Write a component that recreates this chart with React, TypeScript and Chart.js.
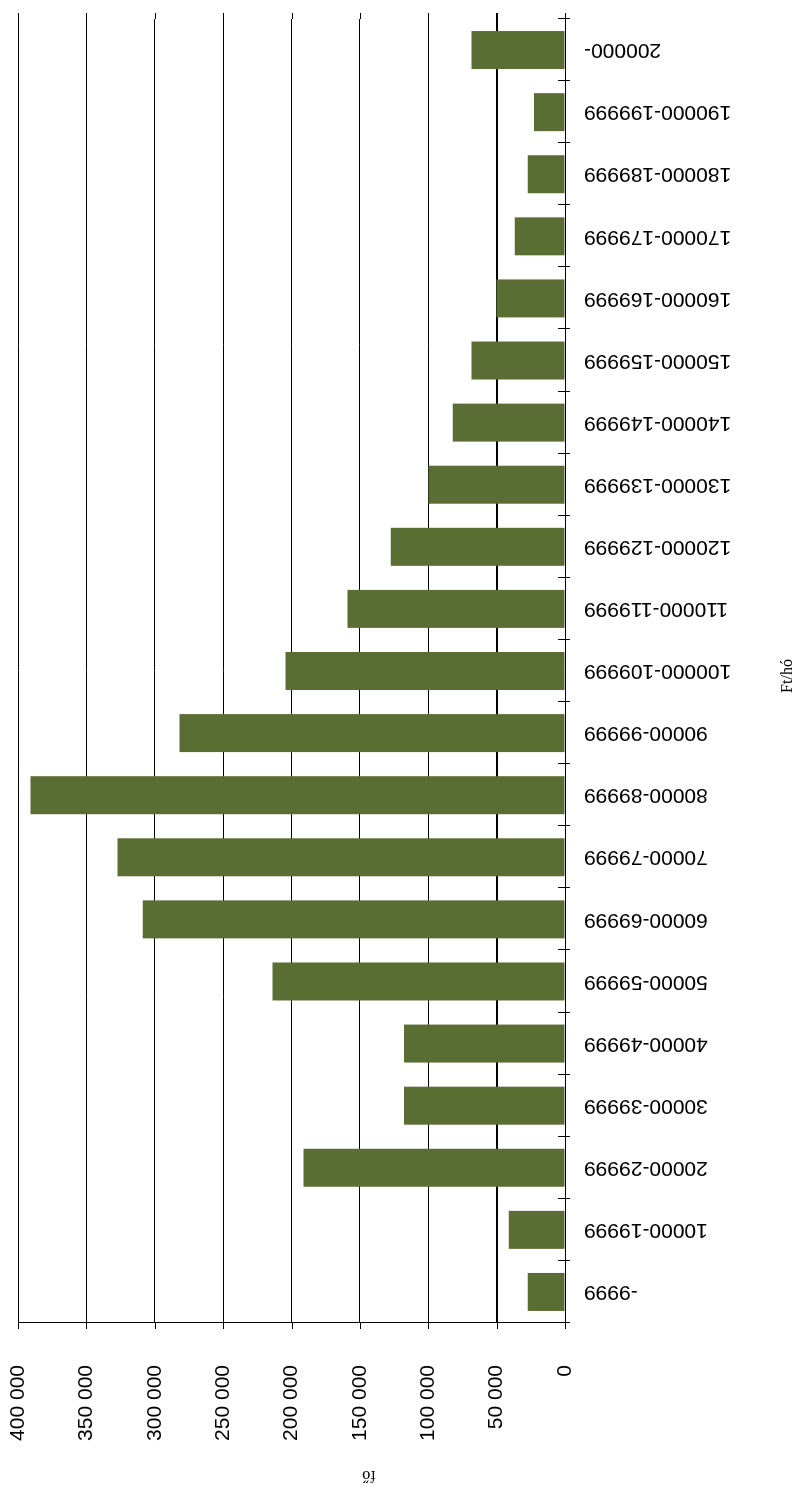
import React, { useEffect, useRef } from "react";
import { Chart, registerables } from "chart.js";

Chart.register(...registerables);

const categories: string[] = [
  "-9999",
  "10000-19999",
  "20000-29999",
  "30000-39999",
  "40000-49999",
  "50000-59999",
  "60000-69999",
  "70000-79999",
  "80000-89999",
  "90000-99999",
  "100000-109999",
  "110000-119999",
  "120000-129999",
  "130000-139999",
  "140000-149999",
  "150000-159999",
  "160000-169999",
  "170000-179999",
  "180000-189999",
  "190000-199999",
  "200000-",
];

const persons: number[] = [
  27200, 41100, 191200, 117800, 117800, 213900, 308700, 327200, 390800, 281900,
  204300, 159000, 127400, 99900, 82000, 68300, 50100, 36700, 27200, 22700, 68300,
];

const valueMin = 0;
const valueMax = 400000;
const valueStep = 50000;
const valueTitle = "fő";
const categoryTitle = "Ft/hó";

const W = 1494;
const H = 807;
const SANS = "'Liberation Sans', Arial, sans-serif";
const SERIF = "'Liberation Serif', 'Times New Roman', serif";

const fmt = (v: number) => String(v).replace(/\B(?=(\d{3})+(?!\d))/g, " ");

const line = (ctx: CanvasRenderingContext2D, x1: number, y1: number, x2: number, y2: number) => {
  ctx.beginPath();
  ctx.moveTo(x1, y1);
  ctx.lineTo(x2, y2);
  ctx.stroke();
};

const decorPlugin = {
  id: "decor",
  afterDraw(chart: any) {
    const { ctx, chartArea, scales } = chart;
    const { left, right, bottom } = chartArea;
    const x = scales.x;
    const y = scales.y;
    ctx.save();
    ctx.strokeStyle = "#000";
    ctx.lineWidth = 1;
    // category tick marks crossing the axis
    for (let i = 0; i <= categories.length; i++) {
      const px = Math.round(x.getPixelForValue(i - 0.5)) + 0.5;
      line(ctx, px, bottom - 7, px, bottom + 5);
    }
    // value-axis ticks outward, and gridlines extend beyond the plot edge
    y.ticks.forEach((t: any) => {
      const lw = t.value === valueStep ? 2 : 1;
      ctx.lineWidth = lw;
      let py = y.getPixelForValue(t.value);
      py = lw === 1 ? Math.round(py) + 0.5 : Math.round(py);
      line(ctx, right, py, right + 6, py);
      ctx.lineWidth = 1;
      const p1 = Math.round(py - 0.5) + 0.5;
      line(ctx, left - 6, p1, left, p1);
    });
    // titles
    ctx.fillStyle = "#000";
    ctx.font = `16px ${SERIF}`;
    ctx.textAlign = "center";
    ctx.textBaseline = "middle";
    ctx.save();
    ctx.translate(19, 369);
    ctx.rotate(-Math.PI / 2);
    ctx.fillText(valueTitle, 0, 0);
    ctx.restore();
    ctx.fillText(categoryTitle, 818, 788);
    ctx.restore();
  },
};

export default function App() {
  const ref = useRef<HTMLCanvasElement | null>(null);

  useEffect(() => {
    let chart: Chart | null = null;
    let cancelled = false;
    const make = () => {
      if (cancelled || !ref.current) return;
      chart = new Chart(ref.current, {
        type: "bar",
        data: {
          labels: categories,
          datasets: [
            {
              label: valueTitle,
              data: persons,
              backgroundColor: "#5A6E33",
              borderWidth: 0,
              barPercentage: 0.612,
              categoryPercentage: 1,
            },
          ],
        },
        options: {
          responsive: false,
          animation: false,
          devicePixelRatio: 1,
          layout: { padding: { left: 0, right: 19, top: 18, bottom: 0 } },
          plugins: {
            legend: { display: false },
            tooltip: { enabled: false },
            title: { display: false },
          },
          scales: {
            x: {
              type: "category",
              offset: true,
              grid: {
                display: true,
                drawOnChartArea: false,
                drawTicks: true,
                tickLength: 19,
                tickColor: "rgba(0,0,0,0)",
                offset: true,
              },
              border: { display: true, color: "#000", width: 1 },
              ticks: {
                autoSkip: false,
                minRotation: 90,
                maxRotation: 90,
                padding: 0,
                color: "#000",
                font: { family: SANS, size: 21 },
              },
              afterFit: (s: any) => {
                s.height = 242;
              },
            },
            y: {
              type: "linear",
              min: valueMin,
              max: valueMax,
              grid: {
                color: "#000",
                lineWidth: (c: any) => (c.tick && c.tick.value === valueStep ? 2 : 1),
                drawTicks: true,
                tickLength: 42,
                tickColor: "rgba(0,0,0,0)",
              },
              border: { display: true, color: "#000", width: 1 },
              ticks: {
                stepSize: valueStep,
                padding: 0,
                color: "#000",
                font: { family: SANS, size: 21 },
                callback: (v: any) => fmt(Number(v)),
              },
              afterFit: (s: any) => {
                s.width = 171;
              },
            },
          },
        },
        plugins: [decorPlugin],
      });
    };
    const fonts: any = (document as any).fonts;
    if (fonts && fonts.load) {
      Promise.all([
        fonts.load("21px 'Liberation Sans'"),
        fonts.load("16px 'Liberation Serif'"),
      ])
        .catch(() => null)
        .then(make);
    } else {
      make();
    }
    return () => {
      cancelled = true;
      if (chart) chart.destroy();
    };
  }, []);

  return (
    <div
      style={{
        position: "fixed",
        left: 0,
        top: 0,
        width: 807,
        height: 1494,
        overflow: "hidden",
        background: "#fff",
      }}
    >
      <div
        style={{
          position: "absolute",
          left: 0,
          top: 0,
          width: W,
          height: H,
          transformOrigin: "0 0",
          transform: `translateY(${W}px) rotate(-90deg)`,
        }}
      >
        <canvas ref={ref} width={W} height={H} style={{ display: "block" }} />
      </div>
    </div>
  );
}
